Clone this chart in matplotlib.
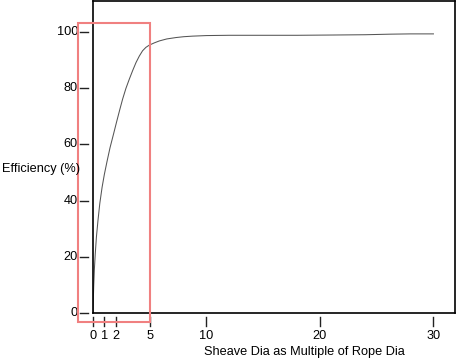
import matplotlib
matplotlib.use("Agg")
import matplotlib.pyplot as plt
from matplotlib.patches import Rectangle
import matplotlib.transforms as mtransforms

plt.rcParams['font.family'] = ['Liberation Sans', 'DejaVu Sans']

# data
ratio = [0, 0.03, 0.06, 0.12, 0.2, 0.3, 0.44, 0.6, 0.8, 1.0, 1.24, 1.5, 1.83, 2.08, 2.35, 2.61,
         2.9, 3.2, 3.5, 3.79, 4.08, 4.37, 4.66, 4.96, 5.4, 5.85, 6.5, 7.32, 8.0, 8.78, 10.0,
         12.0, 15.0, 18.0, 21.2, 24.0, 26.2, 28.0, 30.0]
efficiency = [0, 5.0, 9.3, 15.5, 21.1, 27.0, 33.0, 39.0, 44.7, 49.3, 54.0, 58.8, 64.0, 68.0, 72.2, 76.1,
              79.9, 83.2, 86.3, 89.1, 91.4, 93.3, 94.5, 95.3, 96.1, 96.8, 97.5, 98.0, 98.3, 98.5, 98.7,
              98.8, 98.8, 98.8, 98.9, 99.0, 99.2, 99.3, 99.3]
xticks = [0, 1, 2, 5, 10, 20, 30]
yticks = [0, 20, 40, 60, 80, 100]
highlight_x = [-1.3, 5.05]
highlight_y = [-3.2, 103.2]

W, H = 457, 358
fig = plt.figure(figsize=(W / 100, H / 100), dpi=100)
ax = fig.add_axes([93 / W, 1 - 313 / H, (455 - 93) / W, (313 - 1) / H])
ax.set_xlim(0, 31.9)
ax.set_ylim(0, 111)

ax.plot(ratio, efficiency, color='#555555', lw=0.75)

for s in ax.spines.values():
    s.set_color('black')
    s.set_linewidth(1.2)

ax.set_xticks([])
ax.set_yticks([])

# ticks drawn with a gap from the spines
ytrans = mtransforms.blended_transform_factory(
    mtransforms.IdentityTransform(), ax.transData)
xtrans = mtransforms.blended_transform_factory(
    ax.transData, mtransforms.IdentityTransform())
fs = 9.2
for v in yticks:
    ax.plot([80, 88], [v, v], transform=ytrans, color='#222222', lw=1.0, clip_on=False)
    ax.text(78, v, str(v), transform=ytrans, ha='right', va='center', fontsize=fs,
            clip_on=False)
for v in xticks:
    ax.plot([v, v], [H - 317, H - 326], transform=xtrans, color='#222222', lw=1.0, clip_on=False)
    ax.text(v, H - 336, str(v), transform=xtrans, ha='center', va='center', fontsize=fs,
            clip_on=False)

rect = Rectangle((highlight_x[0], highlight_y[0]), highlight_x[1] - highlight_x[0],
                 highlight_y[1] - highlight_y[0], fill=False, edgecolor='#f08080',
                 lw=1.5, clip_on=False, zorder=5)
ax.add_patch(rect)

fig.text(2 / W, 1 - 169 / H, 'Efficiency (%)', ha='left', va='center', fontsize=fs)
fig.text(304 / W, 1 - 352 / H, 'Sheave Dia as Multiple of Rope Dia', ha='center', va='center', fontsize=fs)

fig.savefig('out.png', dpi=100, facecolor='white')
